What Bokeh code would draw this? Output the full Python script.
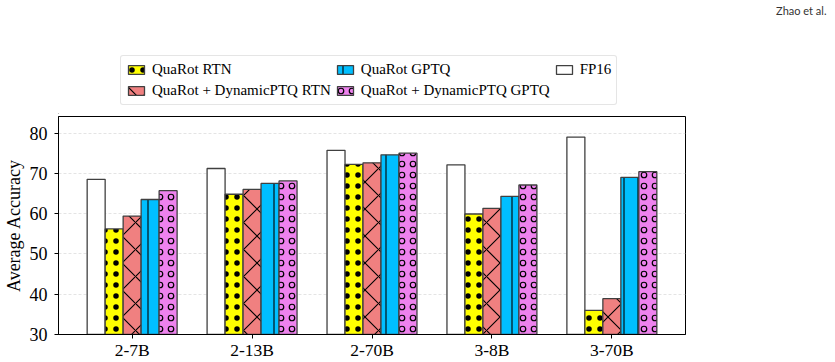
from bokeh.plotting import figure
from bokeh.layouts import column
from bokeh.models import (ColumnDataSource, Legend, LegendItem, FixedTicker,
                          Range1d)
from bokeh.embed import file_html
from bokeh.resources import INLINE

models = ["2-7B", "2-13B", "2-70B", "3-8B", "3-70B"]
fp16 = [68.5, 71.2, 75.7, 72.1, 79.0]
quarot_rtn = [56.2, 64.8, 72.2, 59.9, 36.0]
dyn_rtn = [59.4, 66.0, 72.6, 61.3, 38.9]
quarot_gptq = [63.5, 67.5, 74.6, 64.3, 69.0]
dyn_gptq = [65.7, 68.1, 75.0, 67.1, 70.4]
y_ticks = [30, 40, 50, 60, 70, 80]
running_head = "Zhao et al."

series = [
    ("FP16", fp16, "white", " ", 12, 1),
    ("QuaRot RTN", quarot_rtn, "#FFFF00", ".", 11, 1),
    ("QuaRot + DynamicPTQ RTN", dyn_rtn, "#F08080", "x", 27, 1.1),
    ("QuaRot GPTQ", quarot_gptq, "#00BFFF", "|", 14, 1.1),
    ("QuaRot + DynamicPTQ GPTQ", dyn_gptq, "#EE82EE", "o", 11, 1.2),
]
bw = 0.15
offsets = [-0.3, -0.15, 0.0, 0.15, 0.3]
FONT = "Liberation Serif"
BL, BR = 53, 150

# ---- header figure (legend + running head) ----
top = figure(width=835, height=114, output_backend="svg", toolbar_location=None,
             x_range=Range1d(0, 632), y_range=Range1d(0, 114),
             x_axis_location=None, y_axis_location=None,
             min_border_left=BL, min_border_right=BR, min_border_top=0,
             min_border_bottom=0, title=running_head)
top.grid.grid_line_color = None
top.outline_line_color = None
top.title.align = "right"
top.title.offset = -141
top.title.text_font = "Lato"
top.title.text_font_size = "11px"
top.title.text_font_style = "normal"
top.title.text_color = "#333333"
top.title.standoff = 2

# ---- main figure ----
p = figure(width=835, height=248, output_backend="svg", toolbar_location=None,
           x_range=Range1d(-0.614, 4.614), y_range=Range1d(30, 84.1),
           min_border_left=BL, min_border_right=BR, min_border_top=2,
           min_border_bottom=28)

proxies = {}
xs = list(range(len(models)))
for (name, vals, color, hatch, hs, hw), off in zip(series, offsets):
    style = dict(fill_color=color, line_color="#404040", line_width=1.3,
                 hatch_pattern=hatch, hatch_color="black",
                 hatch_scale=hs, hatch_weight=hw)
    src = ColumnDataSource(dict(x=[x + off for x in xs], top=vals))
    p.vbar(x="x", top="top", bottom=30, width=bw, source=src, **style)
    # legend proxy, placed outside the visible range of the header figure
    proxies[name] = top.vbar(x=[-1000], top=[-1000], bottom=-1001, width=1, **style)

p.xaxis.ticker = FixedTicker(ticks=xs)
p.xaxis.major_label_overrides = {i: m for i, m in enumerate(models)}
p.yaxis.ticker = FixedTicker(ticks=y_ticks)
for ax in (p.xaxis, p.yaxis):
    ax.major_label_text_font = FONT
    ax.major_label_text_font_size = "17.5px"
    ax.major_label_text_color = "black"
    ax.major_tick_in = 0
    ax.major_tick_out = 4
    ax.minor_tick_line_color = None
    ax.axis_line_color = "black"
    ax.major_tick_line_color = "black"
p.yaxis.major_label_text_font_size = "18px"
p.xaxis.major_label_standoff = 1
p.yaxis.major_label_standoff = 7
p.yaxis.axis_label = "Average Accuracy"
p.yaxis.axis_label_text_font = FONT
p.yaxis.axis_label_text_font_size = "18px"
p.yaxis.axis_label_text_font_style = "normal"
p.yaxis.axis_label_text_color = "black"
p.yaxis.axis_label_standoff = 3
p.xgrid.grid_line_color = None
p.ygrid.grid_line_color = "#dddddd"
p.ygrid.grid_line_dash = "3 2"
p.ygrid.grid_line_width = 0.8
p.outline_line_color = "black"
p.outline_line_width = 1
p.outline_line_alpha = 1

order = ["QuaRot RTN", "QuaRot + DynamicPTQ RTN", "QuaRot GPTQ",
         "QuaRot + DynamicPTQ GPTQ", "FP16"]
legend = Legend(items=[LegendItem(label=n, renderers=[proxies[n]]) for n in order],
                location=(115 - BL, 9), orientation="vertical", nrows=2,
                label_text_font=FONT, label_text_font_size="15px",
                label_text_color="black",
                glyph_width=20, glyph_height=11, spacing=4, padding=5,
                label_standoff=6, border_line_color="#cccccc",
                border_line_width=1, border_radius=3,
                background_fill_alpha=1, label_height=17)
top.add_layout(legend, "center")

layout = column(top, p, spacing=0)
open("out.html", "w").write(file_html(layout, INLINE))
